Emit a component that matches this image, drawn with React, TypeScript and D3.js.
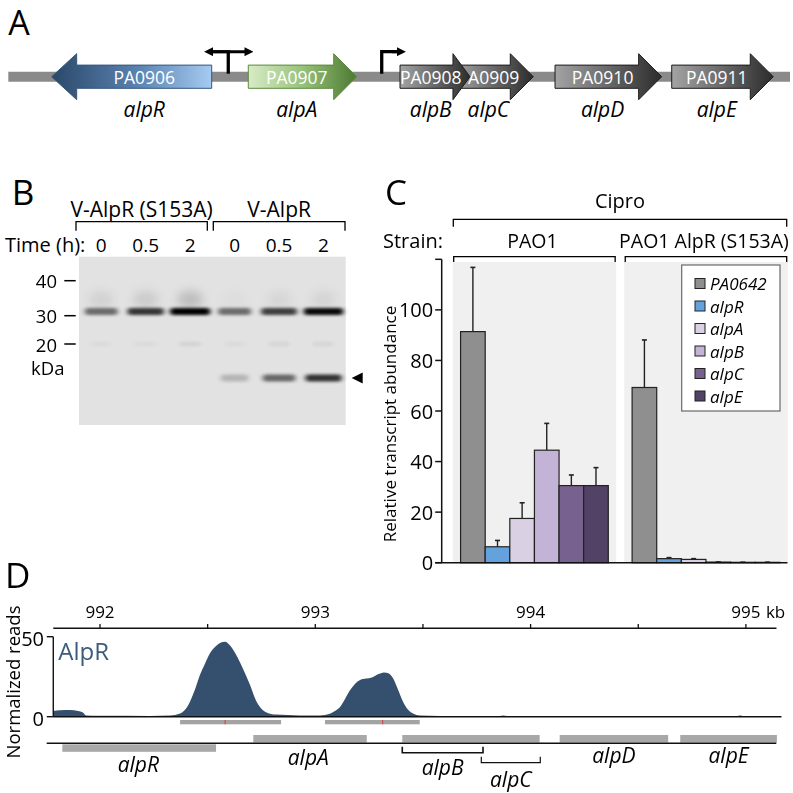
import React from 'react';
import * as d3 from 'd3';

const FONT = "'Open Sans', 'Noto Sans', sans-serif";

// ---------------- Panel A (schematic operon, arbitrary units 0-1000) ----------------
const locusTags = ['PA0906', 'PA0907', 'PA0908', 'PA0909', 'PA0910', 'PA0911'];
const geneNamesA = ['alpR', 'alpA', 'alpB', 'alpC', 'alpD', 'alpE'];
const geneStartA = [55.5, 307, 501.1, 571.4, 699.4, 848.7];
const geneEndA = [260.2, 445.7, 590.6, 671.6, 835.8, 978.6];
const geneStrandA = [-1, 1, 1, 1, 1, 1];
const geneKindA = ['blue', 'green', 'gray', 'gray', 'gray', 'gray'];
const drawOrderA = [0, 1, 3, 2, 4, 5];
const promoterBidirA = [281.4];
const promoterFwdA = [477.7];

// ---------------- Panel B (gel) ----------------
const groupsB = ['V-AlpR (S153A)', 'V-AlpR'];
const lanesB = ['0', '0.5', '2', '0', '0.5', '2'];
const markersB = [40, 30, 20];
const fullBandKDa = 31.2;
const cleavedBandKDa = 8;
const faintBandKDa = 20;
const fullBand = [0.4, 0.7, 1.0, 0.4, 0.65, 0.95];
const cleavedBand = [0, 0, 0, 0.12, 0.55, 0.85];
const smearB = [0.07, 0.1, 0.16, 0.02, 0.05, 0.06];
const faintBand = [0.03, 0.03, 0.07, 0.03, 0.06, 0.06];

// ---------------- Panel C (bar chart) ----------------
const strainsC = ['PAO1', 'PAO1 AlpR (S153A)'];
const genesC = ['PA0642', 'alpR', 'alpA', 'alpB', 'alpC', 'alpE'];
const valuesPAO1 = [91.4, 6.3, 17.5, 44.5, 30.5, 30.5];
const errTopPAO1 = [116.8, 8.8, 23.7, 55.1, 34.7, 37.6];
const valuesS153A = [69.3, 1.6, 1.3, 0.25, 0.15, 0.15];
const errTopS153A = [88.1, 2.0, 1.6, 0.3, 0.2, 0.2];
const yTicksC = [0, 20, 40, 60, 80, 100];
const colorsC = ['#8f8f8f', '#64a2dd', '#d9d1e3', '#c3b3d6', '#76618f', '#524266'];

// ---------------- Panel D (ChIP-seq track) ----------------
const posKb = [991.783, 991.814, 991.861, 991.898, 991.921, 991.935, 992.0, 992.232, 992.325, 992.372, 992.409, 992.441, 992.464, 992.487, 992.511, 992.534, 992.557, 992.581, 992.604, 992.627, 992.65, 992.674, 992.697, 992.725, 992.753, 992.781, 992.817, 992.929, 993.022, 993.068, 993.091, 993.115, 993.138, 993.161, 993.184, 993.208, 993.236, 993.263, 993.291, 993.319, 993.342, 993.361, 993.384, 993.407, 993.43, 993.454, 993.486, 993.579, 993.858, 993.872, 993.89, 994.322, 994.949, 994.972, 994.995, 995.165];
const readsD = [3.6, 4.0, 4.2, 3.6, 2.6, 0.8, 0.6, 0.5, 0.8, 2, 7, 17, 26, 33, 39.6, 43.5, 46, 46.9, 44.5, 40, 34, 27, 19.8, 10, 4.5, 2.2, 1.3, 0.8, 0.8, 1.8, 3.5, 6, 11, 16.5, 20.5, 23, 23.8, 24.5, 26.5, 27.7, 27, 24, 17, 9.5, 4.5, 2, 0.8, 0.5, 0.5, 0.8, 0.4, 0.3, 0.3, 0.8, 0.3, 0.2];
const axisTicksD = [992, 992.5, 993, 993.5, 994, 994.5, 995];
const peakStart = [992.372, 993.045];
const peakEnd = [992.841, 993.485];
const peakSummit = [992.581, 993.313];
const genesD = ['alpR', 'alpA', '', 'alpD', 'alpE'];
const geneStartD = [991.825, 992.712, 993.404, 994.135, 994.695];
const geneEndD = [992.539, 993.239, 994.042, 994.639, 995.144];
const geneStrandD = [-1, 1, 1, 1, 1];
const subGenesD = ['alpB', 'alpC'];
const subStartD = [993.404, 993.771];
const subEndD = [993.779, 994.045];

export default function App() {
  // ---------- Panel A ----------
  const xA = d3.scaleLinear().domain([0, 1000]).range([8.3, 790]);
  const cyA = 76.7;
  const bodyH = 11.6;
  const headH = 23;
  const headLen = (tag: string) => (tag === 'PA0908' ? 17 : tag === 'PA0906' ? 25 : 23);
  const arrowPath = (i: number) => {
    const s = xA(geneStartA[i]);
    const e = xA(geneEndA[i]);
    const hl = headLen(locusTags[i]);
    const p = d3.path();
    if (geneStrandA[i] > 0) {
      p.moveTo(s, cyA - bodyH);
      p.lineTo(e - hl, cyA - bodyH);
      p.lineTo(e - hl, cyA - headH);
      p.lineTo(e, cyA);
      p.lineTo(e - hl, cyA + headH);
      p.lineTo(e - hl, cyA + bodyH);
      p.lineTo(s, cyA + bodyH);
    } else {
      p.moveTo(e, cyA - bodyH);
      p.lineTo(s + hl, cyA - bodyH);
      p.lineTo(s + hl, cyA - headH);
      p.lineTo(s, cyA);
      p.lineTo(s + hl, cyA + headH);
      p.lineTo(s + hl, cyA + bodyH);
      p.lineTo(e, cyA + bodyH);
    }
    p.closePath();
    return p.toString();
  };
  const labelXA = (i: number) => {
    const s = xA(geneStartA[i]);
    const e = xA(geneEndA[i]);
    const hl = headLen(locusTags[i]);
    if (geneStrandA[i] > 0) return (s + e - hl) / 2 + hl * 0.25;
    return (s + hl + e) / 2;
  };
  const strokeA: Record<string, string> = { blue: '#34587d', green: '#5b8a3e', gray: '#1c1c1c' };

  // ---------- Panel B ----------
  const gelX0 = 79, gelX1 = 345.7, gelY0 = 256.7, gelY1 = 425;
  const xB = d3.scaleBand().domain(lanesB.map((_, i) => String(i))).range([gelX0, gelX1]);
  const yB = d3.scaleLinear().domain([40, 30, 20]).range([280.7, 315.7, 344]);
  const laneC = (i: number) => (xB(String(i)) as number) + xB.bandwidth() / 2;

  // ---------- Panel C ----------
  const yC = d3.scaleLinear().domain([0, 120]).range([562.7, 259.3]);
  const xGroup = d3.scaleBand().domain(strainsC).range([452.7, 787.7]).paddingInner(0.047);
  const xGene = d3.scaleBand().domain(genesC).range([0, xGroup.bandwidth()]).paddingOuter(0.32);
  const seriesC = [
    { strain: strainsC[0], vals: valuesPAO1, errs: errTopPAO1 },
    { strain: strainsC[1], vals: valuesS153A, errs: errTopS153A },
  ];
  const axisXC = 441.7;

  // ---------- Panel D ----------
  const xD = d3.scaleLinear().domain([992, 995]).range([100, 745.9]);
  const yD = d3.scaleLinear().domain([0, 50]).range([716.7, 636.7]);
  const trackData = posKb.map((k, i) => ({ k, r: readsD[i] }));
  const area = d3
    .area<{ k: number; r: number }>()
    .x((d) => xD(d.k))
    .y0(yD(0))
    .y1((d) => yD(d.r))
    .curve(d3.curveMonotoneX);
  const geneLineY = 743.3;

  return (
    <svg
      width={793}
      height={793}
      viewBox="0 0 793 793"
      style={{ position: 'absolute', left: 0, top: 0, background: '#fff' }}
      fontFamily={FONT}
    >
      <defs>
        <linearGradient id="gBlue" x1="0" x2="1" y1="0" y2="0">
          <stop offset="0" stopColor="#2b4869" />
          <stop offset="0.55" stopColor="#5b84b2" />
          <stop offset="1" stopColor="#a6cbf2" />
        </linearGradient>
        <linearGradient id="gGreen" x1="0" x2="1" y1="0" y2="0">
          <stop offset="0" stopColor="#d8ecc6" />
          <stop offset="0.5" stopColor="#98c27a" />
          <stop offset="1" stopColor="#4c7a32" />
        </linearGradient>
        <linearGradient id="gGray" x1="0" x2="1" y1="0" y2="0">
          <stop offset="0" stopColor="#a4a4a4" />
          <stop offset="1" stopColor="#2c2c2c" />
        </linearGradient>
        <filter id="blur" x="-50%" y="-100%" width="200%" height="300%">
          <feGaussianBlur stdDeviation="2.4 1.8" />
        </filter>
        <filter id="blurBig" x="-50%" y="-100%" width="200%" height="300%">
          <feGaussianBlur stdDeviation="5 5" />
        </filter>
        <marker id="arrHead" viewBox="0 0 10 10" refX="2" refY="5" markerWidth="3" markerHeight="3" orient="auto">
          <path d="M0,0 L10,5 L0,10 Z" fill="#000" />
        </marker>
      </defs>

      {/* ================= Panel A ================= */}
      <text x={8.3} y={35} fontSize={34} fill="#000">A</text>
      <line x1={xA(0)} x2={xA(1000)} y1={cyA} y2={cyA} stroke="#8a8a8a" strokeWidth={10} />
      {promoterBidirA.map((p, i) => {
        const x = xA(p);
        return (
          <g key={'pb' + i}>
            <line x1={x} x2={x} y1={cyA - 3} y2={51.7} stroke="#000" strokeWidth={3.3} />
            <line x1={x - 16} x2={x + 18} y1={51.7} y2={51.7} stroke="#000" strokeWidth={3} markerEnd="url(#arrHead)" />
            <line x1={x + 2} x2={x - 17} y1={51.7} y2={51.7} stroke="#000" strokeWidth={3} markerEnd="url(#arrHead)" />
          </g>
        );
      })}
      {promoterFwdA.map((p, i) => {
        const x = xA(p);
        return (
          <g key={'pf' + i}>
            <path d={`M${x},${cyA - 3} V51.7 H${x + 16}`} fill="none" stroke="#000" strokeWidth={3.3} />
            <line x1={x + 10} x2={x + 17} y1={51.7} y2={51.7} stroke="#000" strokeWidth={3} markerEnd="url(#arrHead)" />
          </g>
        );
      })}
      {drawOrderA.map((i) => (
        <g key={'ga' + i}>
          <path
            d={arrowPath(i)}
            fill={geneKindA[i] === 'blue' ? 'url(#gBlue)' : geneKindA[i] === 'green' ? 'url(#gGreen)' : 'url(#gGray)'}
            stroke={strokeA[geneKindA[i]]}
            strokeWidth={1}
          />
          <text x={labelXA(i)} y={cyA} fontSize={17.5} fill="#fff" textAnchor="middle" dominantBaseline="central">
            {locusTags[i]}
          </text>
        </g>
      ))}
      {geneNamesA.map((g, i) => (
        <text key={'gna' + i} x={labelXA(i)} y={116.5} fontSize={21} fontStyle="italic" textAnchor="middle">
          {g}
        </text>
      ))}

      {/* ================= Panel B ================= */}
      <text x={11.7} y={205} fontSize={35}>B</text>
      <text x={(76 + 207.3) / 2} y={216.7} fontSize={21} textAnchor="middle">{groupsB[0]}</text>
      <text x={(213.3 + 345) / 2} y={216.7} fontSize={21} textAnchor="middle">{groupsB[1]}</text>
      <path d="M76,230.7 V221.7 H207.3 V230.7" fill="none" stroke="#000" strokeWidth={1.3} />
      <path d="M213.3,230.7 V221.7 H345 V230.7" fill="none" stroke="#000" strokeWidth={1.3} />
      <text x={5} y={251.7} fontSize={20}>Time (h):</text>
      {lanesB.map((l, i) => (
        <text key={'lb' + i} x={laneC(i)} y={251.7} fontSize={19} textAnchor="middle">{l}</text>
      ))}
      <rect x={gelX0} y={gelY0} width={gelX1 - gelX0} height={gelY1 - gelY0} fill="#e2e2e2" />
      <g filter="url(#blurBig)">
        {smearB.map((s, i) => (
          <ellipse key={'sm' + i} cx={laneC(i)} cy={yB(fullBandKDa) - 12} rx={13} ry={9} fill="#000" opacity={s} />
        ))}
      </g>
      <g filter="url(#blur)">
        {fullBand.map((b, i) => (
          <rect key={'fb' + i} x={laneC(i) - (14 + 6 * b)} y={yB(fullBandKDa) - 3.5} width={2 * (14 + 6 * b)} height={7} rx={3} fill="#000" opacity={0.2 + 0.8 * b} />
        ))}
        {cleavedBand.map((b, i) =>
          b > 0 ? (
            <rect key={'cb' + i} x={laneC(i) - (13 + 6 * b)} y={yB(cleavedBandKDa) - 3.5} width={2 * (13 + 6 * b)} height={7} rx={3} fill="#000" opacity={0.1 + 0.8 * b} />
          ) : null
        )}
        {faintBand.map((b, i) => (
          <rect key={'fa' + i} x={laneC(i) - 10} y={yB(faintBandKDa) - 2} width={20} height={4} fill="#000" opacity={b} />
        ))}
      </g>
      {markersB.map((m) => (
        <g key={'mk' + m}>
          <text x={57} y={yB(m)} fontSize={18.5} textAnchor="end" dominantBaseline="central">{m}</text>
          <line x1={64.3} x2={75.7} y1={yB(m)} y2={yB(m)} stroke="#000" strokeWidth={1.5} />
        </g>
      ))}
      <text x={31} y={375} fontSize={18.5}>kDa</text>
      <path d={`M351.7,${yB(cleavedBandKDa)} L362.7,${yB(cleavedBandKDa) - 5.5} L362.7,${yB(cleavedBandKDa) + 5.5} Z`} fill="#000" />

      {/* ================= Panel C ================= */}
      <text x={385} y={205} fontSize={35}>C</text>
      <text x={620} y={208} fontSize={20} textAnchor="middle">Cipro</text>
      <path d="M453.3,226.7 V219.3 H786.7 V226.7" fill="none" stroke="#000" strokeWidth={1.3} />
      <text x={383} y={248} fontSize={20}>Strain:</text>
      {strainsC.map((s) => {
        const gx = xGroup(s) as number;
        return (
          <g key={'br' + s}>
            <text x={gx + xGroup.bandwidth() / 2 - 2} y={248} fontSize={19.5} textAnchor="middle">{s}</text>
            <path d={`M${gx + 1},263 V256.7 H${gx + xGroup.bandwidth() - 1} V263`} fill="none" stroke="#000" strokeWidth={1.3} />
            <rect x={gx} y={262} width={xGroup.bandwidth()} height={yC(0) - 262} fill="#f0f0f0" />
          </g>
        );
      })}
      {seriesC.map((ser) => {
        const gx = xGroup(ser.strain) as number;
        return (
          <g key={'bars' + ser.strain}>
            {genesC.map((g, j) => {
              const x = gx + (xGene(g) as number);
              const w = xGene.bandwidth();
              const cx = x + w / 2;
              return (
                <g key={g}>
                  <line x1={cx} x2={cx} y1={yC(ser.vals[j])} y2={yC(ser.errs[j])} stroke="#222" strokeWidth={1.4} />
                  <line x1={cx - 2.5} x2={cx + 2.5} y1={yC(ser.errs[j])} y2={yC(ser.errs[j])} stroke="#222" strokeWidth={1.6} />
                  <rect x={x} y={yC(ser.vals[j])} width={w} height={yC(0) - yC(ser.vals[j])} fill={colorsC[j]} stroke="#222" strokeWidth={1.2} />
                </g>
              );
            })}
          </g>
        );
      })}
      <line x1={axisXC} x2={axisXC} y1={yC(0)} y2={yC(120)} stroke="#111" strokeWidth={1.5} />
      <line x1={axisXC - 6.5} x2={axisXC} y1={yC(120)} y2={yC(120)} stroke="#111" strokeWidth={1.5} />
      <line x1={axisXC - 6.5} x2={787.5} y1={yC(0)} y2={yC(0)} stroke="#111" strokeWidth={1.5} />
      {yTicksC.map((t) => (
        <g key={'yt' + t}>
          <line x1={axisXC - 6.5} x2={axisXC} y1={yC(t)} y2={yC(t)} stroke="#111" strokeWidth={1.5} />
          <text x={axisXC - 8.5} y={yC(t)} fontSize={20} textAnchor="end" dominantBaseline="central">{t}</text>
        </g>
      ))}
      <text transform={`translate(389,424) rotate(-90)`} fontSize={17} textAnchor="middle" dominantBaseline="central">
        Relative transcript abundance
      </text>
      <rect x={681.7} y={265} width={98.3} height={146} fill="#fff" stroke="#6a6a6a" strokeWidth={1.2} />
      {genesC.map((g, j) => (
        <g key={'lg' + g}>
          <rect x={695} y={283.5 + 22.5 * j - 5} width={10} height={10} fill={colorsC[j]} stroke="#222" strokeWidth={1} />
          <text x={710} y={283.5 + 22.5 * j} fontSize={17} fontStyle="italic" dominantBaseline="central">{g}</text>
        </g>
      ))}

      {/* ================= Panel D ================= */}
      <text x={5} y={588} fontSize={35}>D</text>
      <line x1={xD(991.783)} x2={xD(995.142)} y1={628.3} y2={628.3} stroke="#111" strokeWidth={1.4} />
      {axisTicksD.map((t) => (
        <line key={'dt' + t} x1={xD(t)} x2={xD(t)} y1={628.3} y2={624} stroke="#111" strokeWidth={1.3} />
      ))}
      {axisTicksD.filter((t) => Number.isInteger(t)).map((t, i, arr) => (
        <g key={'dl' + t}>
          <text x={xD(t)} y={618.3} fontSize={17} textAnchor="middle">{t}</text>
          {i === arr.length - 1 ? (
            <text x={xD(t) + 20} y={618.3} fontSize={17}>kb</text>
          ) : null}
        </g>
      ))}
      <path d={area(trackData) as string} fill="#34506e" />
      <line x1={xD(991.783)} x2={xD(995.165)} y1={yD(0)} y2={yD(0)} stroke="#111" strokeWidth={1.4} />
      <line x1={xD(991.783)} x2={xD(991.783)} y1={yD(0)} y2={yD(50)} stroke="#111" strokeWidth={1.4} />
      {[0, 50].map((t) => (
        <g key={'yd' + t}>
          <line x1={xD(991.783) - 6.5} x2={xD(991.783)} y1={yD(t)} y2={yD(t)} stroke="#111" strokeWidth={1.4} />
          <text x={44} y={yD(t) + 2} fontSize={20} textAnchor="end" dominantBaseline="central">{t}</text>
        </g>
      ))}
      <text x={58.3} y={660} fontSize={24} fill="#3d5b7b">AlpR</text>
      <text transform="translate(12,682) rotate(-90)" fontSize={18.5} textAnchor="middle" dominantBaseline="central">
        Normalized reads
      </text>
      {peakStart.map((s, i) => (
        <g key={'pk' + i}>
          <rect x={xD(s)} y={720} width={xD(peakEnd[i]) - xD(s)} height={4.3} fill="#a3a3a3" />
          <rect x={xD(peakSummit[i]) - 0.5} y={720} width={1} height={4.3} fill="#d63a3a" />
        </g>
      ))}
      {genesD.map((g, i) => (
        <rect
          key={'gd' + i}
          x={xD(geneStartD[i])}
          y={geneStrandD[i] > 0 ? geneLineY - 8.3 : geneLineY + 1}
          width={xD(geneEndD[i]) - xD(geneStartD[i])}
          height={7.5}
          fill="#a8a8a8"
        />
      ))}
      <line x1={46.7} x2={776.3} y1={geneLineY} y2={geneLineY} stroke="#111" strokeWidth={1.6} />
      <text x={138.3} y={771.7} fontSize={21} fontStyle="italic" textAnchor="middle">{genesD[0]}</text>
      <text x={308.3} y={765} fontSize={21} fontStyle="italic" textAnchor="middle">{genesD[1]}</text>
      <text x={(xD(geneStartD[3]) + xD(geneEndD[3])) / 2} y={763.3} fontSize={21} fontStyle="italic" textAnchor="middle">{genesD[3]}</text>
      <text x={(xD(geneStartD[4]) + xD(geneEndD[4])) / 2} y={763.3} fontSize={21} fontStyle="italic" textAnchor="middle">{genesD[4]}</text>
      {subGenesD.map((g, i) => {
        const x0 = xD(subStartD[i]);
        const x1 = xD(subEndD[i]);
        const by = i === 0 ? 752.7 : 762.7;
        return (
          <g key={'sg' + g}>
            <path d={`M${x0},${by - 6} V${by} H${x1} V${by - 6}`} fill="none" stroke="#111" strokeWidth={i === 0 ? 1.6 : 1.2} />
            <text x={(x0 + x1) / 2} y={i === 0 ? 775 : 786.7} fontSize={21} fontStyle="italic" textAnchor="middle">{g}</text>
          </g>
        );
      })}
    </svg>
  );
}
